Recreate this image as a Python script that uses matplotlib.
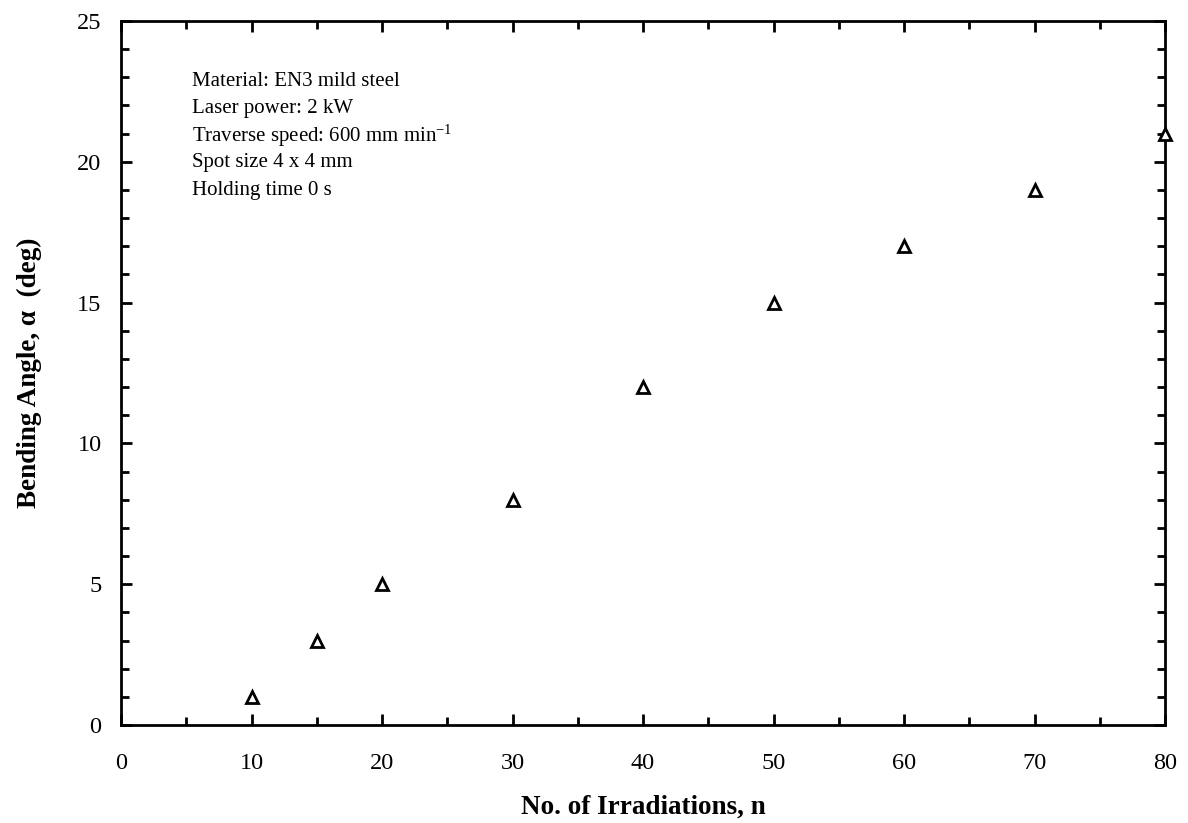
import matplotlib
matplotlib.use("Agg")
import matplotlib.pyplot as plt
from matplotlib.ticker import MultipleLocator

plt.rcParams['font.family'] = ['Liberation Serif', 'DejaVu Serif']
plt.rcParams['mathtext.fontset'] = 'custom'
plt.rcParams['mathtext.rm'] = 'Liberation Serif'
plt.rcParams['mathtext.it'] = 'Liberation Serif:italic'

irradiations = [10, 15, 20, 30, 40, 50, 60, 70, 80]
bending_angle = [1, 3, 5, 8, 12, 15, 17, 19, 21]

info_lines = [
    "Material: EN3 mild steel",
    "Laser power: 2 kW",
    "Traverse speed: 600 mm min$^{\\mathrm{-1}}$",
    "Spot size 4 x 4 mm",
    "Holding time 0 s",
]

fig = plt.figure(figsize=(11.88, 8.23), dpi=100)
ax = fig.add_axes([121/1188, 1-725/823, (1165-121)/1188, (725-21)/823])

ax.plot(irradiations, bending_angle, linestyle='none', marker='^',
        markersize=9, markerfacecolor='white', markeredgecolor='black',
        markeredgewidth=2, clip_on=False, zorder=5)

ax.set_xlim(0, 80)
ax.set_ylim(0, 25)
ax.xaxis.set_major_locator(MultipleLocator(10))
ax.xaxis.set_minor_locator(MultipleLocator(5))
ax.yaxis.set_major_locator(MultipleLocator(5))
ax.yaxis.set_minor_locator(MultipleLocator(1))

for s in ax.spines.values():
    s.set_linewidth(2)

ax.tick_params(which='both', direction='in', top=True, right=True, width=2)
ax.tick_params(which='major', length=8)
ax.tick_params(which='minor', length=6)
ax.tick_params(axis='x', which='major', pad=20, labelsize=17.5)
ax.tick_params(axis='y', which='major', pad=14, labelsize=17.5)

ax.set_xlabel("No. of Irradiations, n", fontsize=19.5, fontweight='bold', labelpad=15)
ax.set_ylabel("Bending Angle, α  (deg)", fontsize=19.5, fontweight='bold', labelpad=25)

for i, line in enumerate(info_lines):
    ax.text(192/1188, 1 - (82 + 27*i)/823, line, transform=fig.transFigure,
            fontsize=15, va='center', ha='left')

fig.savefig("out.png", dpi=100)
